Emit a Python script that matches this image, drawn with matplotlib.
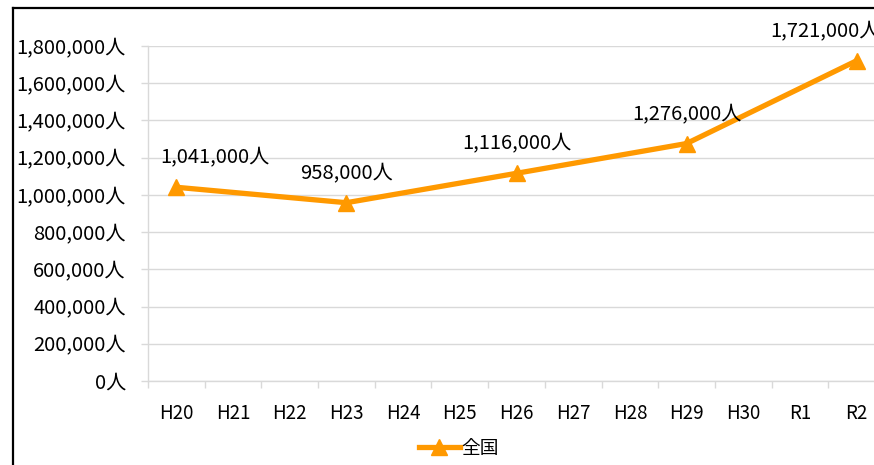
import matplotlib.pyplot as plt
from matplotlib.lines import Line2D
from matplotlib.ticker import FuncFormatter, MultipleLocator

plt.rcParams['font.family'] = ['Noto Sans CJK JP', 'DejaVu Sans']

# categories on the x axis (fiscal years)
categories = ['H20', 'H21', 'H22', 'H23', 'H24', 'H25', 'H26',
              'H27', 'H28', 'H29', 'H30', 'R1', 'R2']
# survey years that have a value
data_years = ['H20', 'H23', 'H26', 'H29', 'R2']
data_values = [1041000, 958000, 1116000, 1276000, 1721000]
series_name = '全国'

orange = '#FF9900'
grid_col = '#D9D9D9'

fig = plt.figure(figsize=(8.74, 4.65), dpi=100)
ax = fig.add_axes([148 / 874, 84 / 465, 737 / 874, 335 / 465])

xs = [categories.index(c) for c in data_years]
ax.plot(xs, data_values, color=orange, lw=3.8, marker='^', ms=11,
        solid_capstyle='round', zorder=3)

# data labels above the points
for i, (x, v) in enumerate(zip(xs, data_values)):
    txt = f'{v:,}人'
    if i == 0:
        ax.annotate(txt, (x, v), xytext=(-11.5, 21), textcoords='offset points',
                    ha='left', va='center', fontsize=14.5)
    elif i == len(xs) - 1:
        ax.annotate(txt, (x, v), xytext=(-62.5, 21), textcoords='offset points',
                    ha='left', va='center', fontsize=14.5, annotation_clip=False)
    else:
        ax.annotate(txt, (x, v), xytext=(0, 21), textcoords='offset points',
                    ha='center', va='center', fontsize=14.5)

ax.set_xlim(-0.5, len(categories) - 0.5)
ax.set_ylim(0, 1800000)
ax.yaxis.set_major_locator(MultipleLocator(200000))
ax.yaxis.set_major_formatter(FuncFormatter(lambda v, p: f'{int(v):,}人'))
ax.grid(axis='y', color=grid_col, lw=1)
ax.set_axisbelow(True)

ax.set_xticks(range(len(categories)))
ax.set_xticklabels(categories)
ax.set_xticks([i - 0.5 for i in range(len(categories) + 1)], minor=True)
ax.tick_params(axis='x', which='major', length=0, pad=16, labelsize=13.5)
ax.tick_params(axis='x', which='minor', length=5, color=grid_col, width=1)
ax.tick_params(axis='y', length=5, color=grid_col, width=1, pad=11, labelsize=14.5)

for s in ['top', 'right']:
    ax.spines[s].set_visible(False)
for s in ['left', 'bottom']:
    ax.spines[s].set_color(grid_col)
    ax.spines[s].set_linewidth(1)

handle = Line2D([], [], color=orange, lw=3.8, marker='^', ms=11)
fig.legend([handle], [series_name], loc='center', bbox_to_anchor=(459 / 874, 1 - 448 / 465),
           frameon=False, fontsize=13.5, handlelength=2.2, handletextpad=0.1)

# chart border (cropped on the right and bottom)
fig.add_artist(Line2D([13 / 874, 13 / 874], [0, 1 - 8 / 465], color='black', lw=1.6))
fig.add_artist(Line2D([13 / 874, 1], [1 - 8 / 465, 1 - 8 / 465], color='black', lw=1.6))

fig.savefig('out.png', dpi=100)
